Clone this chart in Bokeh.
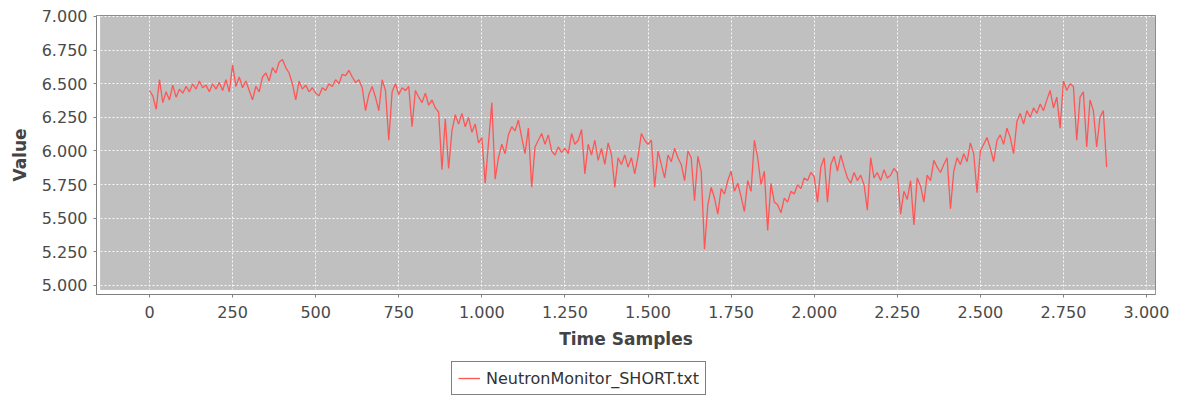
from bokeh.plotting import figure
from bokeh.layouts import column
from bokeh.models import (Range1d, FixedTicker, CustomJSTickFormatter, BoxAnnotation,
                          Legend, LegendItem, ColumnDataSource)
from bokeh.embed import file_html
from bokeh.resources import INLINE

# ---- data (one value every 10 samples) ----
sample_step = 10
values = [
    6.45, 6.41, 6.31, 6.53, 6.36, 6.44, 6.38, 6.49, 6.40, 6.46,
    6.43, 6.48, 6.44, 6.50, 6.46, 6.52, 6.47, 6.49, 6.44, 6.50,
    6.46, 6.51, 6.45, 6.53, 6.44, 6.64, 6.48, 6.55, 6.47, 6.52,
    6.45, 6.38, 6.48, 6.44, 6.55, 6.58, 6.52, 6.62, 6.58, 6.66,
    6.68, 6.62, 6.58, 6.50, 6.38, 6.52, 6.46, 6.49, 6.44, 6.47,
    6.43, 6.41, 6.47, 6.45, 6.50, 6.48, 6.53, 6.50, 6.57, 6.56,
    6.60, 6.55, 6.51, 6.53, 6.47, 6.30, 6.42, 6.48, 6.40, 6.30,
    6.53, 6.45, 6.08, 6.44, 6.50, 6.42, 6.47, 6.45, 6.48, 6.18,
    6.45, 6.40, 6.36, 6.43, 6.34, 6.38, 6.32, 6.29, 5.86, 6.24,
    5.87, 6.15, 6.27, 6.20, 6.28, 6.18, 6.25, 6.14, 6.20, 6.06,
    6.10, 5.76, 6.06, 6.36, 5.79, 5.95, 6.05, 5.98, 6.12, 6.18,
    6.15, 6.23, 6.10, 5.98, 6.17, 5.73, 6.03, 6.08, 6.13, 6.05,
    6.12, 6.00, 5.97, 6.03, 5.99, 6.02, 5.98, 6.13, 6.05, 6.08,
    6.16, 5.83, 6.05, 5.97, 6.08, 5.93, 6.02, 5.90, 6.06, 5.97,
    5.73, 5.95, 5.90, 5.97, 5.88, 5.95, 5.83, 5.96, 6.13, 6.08,
    6.05, 6.08, 5.73, 6.00, 5.90, 5.80, 5.97, 5.92, 6.02, 5.95,
    5.90, 5.78, 6.00, 5.95, 5.63, 5.96, 5.85, 5.27, 5.60, 5.73,
    5.65, 5.53, 5.72, 5.68, 5.78, 5.85, 5.70, 5.76, 5.66, 5.55,
    5.78, 5.70, 6.08, 5.95, 5.75, 5.85, 5.41, 5.76, 5.62, 5.60,
    5.54, 5.65, 5.62, 5.70, 5.68, 5.75, 5.72, 5.80, 5.78, 5.84,
    5.81, 5.62, 5.88, 5.95, 5.62, 5.90, 5.96, 5.85, 5.97, 5.88,
    5.80, 5.76, 5.84, 5.78, 5.82, 5.75, 5.56, 5.95, 5.80, 5.84,
    5.78, 5.86, 5.80, 5.82, 5.87, 5.84, 5.53, 5.70, 5.64, 5.78,
    5.45, 5.80, 5.74, 5.62, 5.82, 5.78, 5.93, 5.88, 5.84, 5.90,
    5.95, 5.57, 5.85, 5.95, 5.90, 5.98, 5.92, 6.06, 5.98, 5.69,
    6.00, 6.05, 6.10, 6.02, 5.92, 6.08, 6.12, 6.05, 6.17, 6.10,
    5.98, 6.22, 6.28, 6.20, 6.30, 6.25, 6.32, 6.28, 6.35, 6.30,
    6.38, 6.45, 6.32, 6.40, 6.17, 6.52, 6.45, 6.50, 6.48, 6.08,
    6.40, 6.44, 6.03, 6.38, 6.30, 6.03, 6.25, 6.30, 5.88,
]
samples = [i * sample_step for i in range(len(values))]
series_name = "NeutronMonitor_SHORT.txt"
x_ticks = [0, 250, 500, 750, 1000, 1250, 1500, 1750, 2000, 2250, 2500, 2750, 3000]
y_ticks = [5.0, 5.25, 5.5, 5.75, 6.0, 6.25, 6.5, 6.75, 7.0]
x_label = "Time Samples"
y_label = "Value"
line_color = "#FF5555"

# ---- layout constants ----
X0, X1 = -159.5, 3027.0          # frame (includes axis offset strip)
Y0, Y1 = 4.933, 7.0074
PLOT_LEFT, PLOT_BOTTOM = -147.4, 4.97   # grey data area starts here

p = figure(width=1178, height=353, output_backend="svg", toolbar_location=None,
           title=None, x_range=Range1d(X0, X1), y_range=Range1d(Y0, Y1),
           min_border_left=96, min_border_right=23, min_border_top=15,
           min_border_bottom=59)
p.background_fill_color = "white"
p.border_fill_color = "white"
p.outline_line_color = "#808080"
p.outline_line_width = 1

# grey plot background
p.add_layout(BoxAnnotation(left=PLOT_LEFT, right=X1, bottom=PLOT_BOTTOM, top=Y1,
                           fill_color="#C0C0C0", fill_alpha=1.0, line_color=None,
                           level="image"))

# grid
for g in (p.xgrid, p.ygrid):
    g.grid_line_color = "white"
    g.grid_line_dash = "2 2"
    g.grid_line_width = 1
    g.grid_line_alpha = 0.9
    g.level = "underlay"

# outline of grey area
p.add_layout(BoxAnnotation(left=PLOT_LEFT, right=X1, bottom=PLOT_BOTTOM, top=Y1,
                           fill_color=None, line_color="#808080", line_width=1,
                           level="underlay"))
# white offset strips covering grid overrun
p.add_layout(BoxAnnotation(left=X0, right=X1, bottom=Y0, top=PLOT_BOTTOM - 0.004,
                           fill_color="white", fill_alpha=1.0, line_color=None,
                           level="underlay"))
p.add_layout(BoxAnnotation(left=X0, right=PLOT_LEFT - 1.5, bottom=Y0, top=Y1,
                           fill_color="white", fill_alpha=1.0, line_color=None,
                           level="underlay"))

src = ColumnDataSource(dict(x=samples, y=values))
p.line("x", "y", source=src, line_color=line_color, line_width=1.3)

# axes
p.xaxis.ticker = FixedTicker(ticks=x_ticks)
p.yaxis.ticker = FixedTicker(ticks=y_ticks)
p.xaxis.formatter = CustomJSTickFormatter(
    code='return Math.round(tick).toString().replace(/\\B(?=(\\d{3})+(?!\\d))/g, ".");')
p.yaxis.formatter = CustomJSTickFormatter(code='return tick.toFixed(3);')
for ax in (p.xaxis, p.yaxis):
    ax.axis_line_color = "#808080"
    ax.major_tick_line_color = "#808080"
    ax.major_tick_out = 3
    ax.major_tick_in = 0
    ax.minor_tick_line_color = None
    ax.major_label_text_font = "DejaVu Sans"
    ax.major_label_text_font_size = "16px"
    ax.major_label_text_color = "#4a4a4a"
    ax.axis_label_text_font = "DejaVu Sans"
    ax.axis_label_text_font_style = "bold"
    ax.axis_label_text_font_size = "17px"
    ax.axis_label_text_color = "#444444"
p.xaxis.axis_label = x_label
p.yaxis.axis_label = y_label
p.xaxis.major_label_standoff = 8
p.yaxis.major_label_standoff = 6
p.xaxis.axis_label_standoff = 8
p.yaxis.axis_label_standoff = 9

# ---- legend strip below the chart (frame is aligned with the chart's frame) ----
lg = figure(width=1178, height=43, output_backend="svg", toolbar_location=None,
            title=None, x_axis_type=None, y_axis_type=None,
            x_range=Range1d(0, 1), y_range=Range1d(0, 1),
            min_border=0, min_border_left=0, min_border_right=0,
            min_border_top=0, min_border_bottom=0)
lg.outline_line_color = None
lg.background_fill_color = "white"
lg.border_fill_color = "white"
# same series, but outside this strip's ranges: only its legend swatch shows
lr = lg.line("x", "y", source=src, line_color=line_color, line_width=1.3)
legend = Legend(items=[LegendItem(label=series_name, renderers=[lr])],
                location=(355, 1), orientation="horizontal",
                border_line_color="black", border_line_width=1,
                background_fill_color="white", background_fill_alpha=1.0,
                label_text_font="DejaVu Sans", label_text_font_size="16px",
                label_text_color="#333333", glyph_width=22, glyph_height=20,
                label_standoff=6, padding=6, margin=0, spacing=0)
lg.add_layout(legend, "center")

layout = column(p, lg, spacing=0)
open("out.html", "w").write(file_html(layout, INLINE))
